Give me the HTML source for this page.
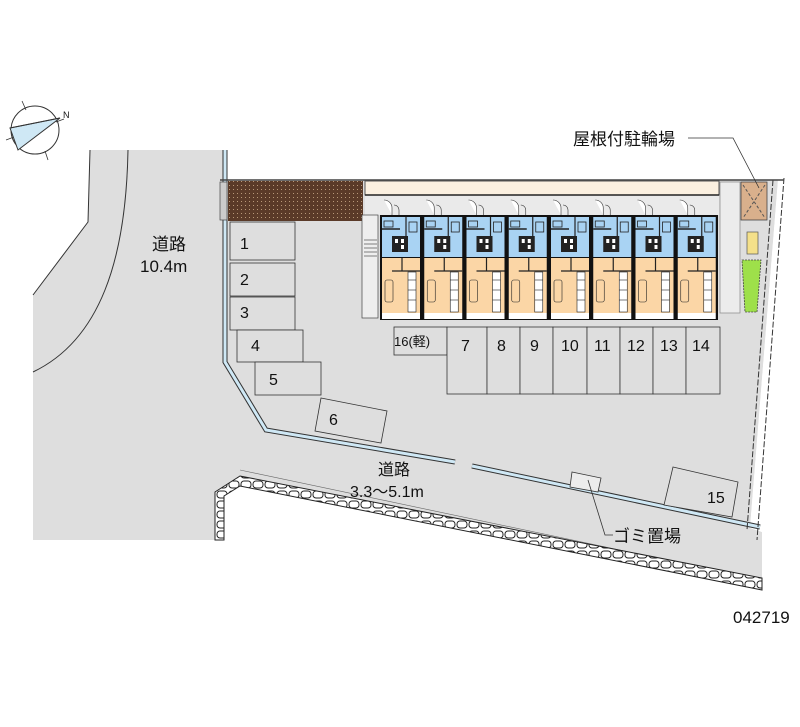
<!DOCTYPE html>
<html><head><meta charset="utf-8"><style>
html,body{margin:0;padding:0;background:#fff;}
svg{display:block;}
text{font-family:"Liberation Sans","Noto Sans CJK JP",sans-serif;fill:#111;}
</style></head><body>
<svg width="800" height="727" viewBox="0 0 800 727" xmlns="http://www.w3.org/2000/svg">
<defs>
<pattern id="hatch" width="4" height="4" patternUnits="userSpaceOnUse">
<rect width="4" height="4" fill="#5a3a28"/><rect x="1" y="1" width="1" height="1" fill="#b89878"/>
</pattern>
<pattern id="stones" width="12" height="10" patternUnits="userSpaceOnUse">
<rect width="12" height="10" fill="#fff"/><rect x="1" y="1" width="10" height="7" rx="3" fill="#fff" stroke="#222" stroke-width="1"/>
</pattern>
<g id="unit">
<rect x="2" y="217" width="38" height="40" fill="#a9d3f3"/>
<rect x="2" y="258" width="38" height="55" fill="#fbd6a6"/>
<rect x="2" y="313" width="38" height="6" fill="#fff"/>
<rect x="12" y="236" width="16" height="16" fill="#222"/>
<rect x="15" y="239" width="3" height="4" fill="#fff"/><rect x="21" y="239" width="3" height="4" fill="#fff"/>
<rect x="21" y="245" width="3" height="4" fill="#fff"/>
<line x1="2" y1="229" x2="20" y2="229" stroke="#222" stroke-width="1.5"/>
<line x1="26" y1="217" x2="26" y2="236" stroke="#222" stroke-width="1.2"/>
<rect x="29" y="222" width="8" height="10" fill="none" stroke="#222" stroke-width="0.8"/>
<rect x="4" y="221" width="9" height="6" fill="none" stroke="#222" stroke-width="0.8"/>
<line x1="22" y1="258" x2="22" y2="271" stroke="#222" stroke-width="1.2"/>
<line x1="12" y1="271" x2="40" y2="271" stroke="#222" stroke-width="1.2"/>
<rect x="28" y="272" width="8" height="40" fill="#fff" stroke="#222" stroke-width="0.6"/>
<line x1="28" y1="280" x2="36" y2="280" stroke="#222" stroke-width="0.6"/>
<line x1="28" y1="290" x2="36" y2="290" stroke="#222" stroke-width="0.6"/>
<line x1="28" y1="300" x2="36" y2="300" stroke="#222" stroke-width="0.6"/>
<rect x="5" y="280" width="8" height="22" rx="2" fill="#fbd6a6" stroke="#222" stroke-width="0.6"/>
<path d="M4,200 a8,8 0 0 1 8,8 v7" fill="#fff" stroke="#333" stroke-width="0.6"/>
<path d="M14,205 a5,5 0 0 1 5,5 v5" fill="none" stroke="#333" stroke-width="0.6"/>
</g>
</defs>
<polygon points="33,150 223,150 223,180 778,180 750,528 762,532 762,588 240,482 222,487 215,492 215,540 33,540" fill="#dedede"/>
<polygon points="33,150 90,150 88,222 33,295" fill="#fff"/>
<polygon points="778,180 800,180 800,600 762,600 762,532 750,528" fill="#fff"/>
<polyline points="90,150 88,222 33,295" fill="none" stroke="#333" stroke-width="1"/>
<path d="M128,150 C126,260 100,340 33,372" fill="none" stroke="#333" stroke-width="1"/>
<polyline points="225,150 225,362 266,430 455,462" fill="none" stroke="#333" stroke-width="5"/>
<polyline points="225,150 225,362 266,430 455,462" fill="none" stroke="#cfe8f5" stroke-width="3"/>
<polyline points="472,466 760,527" fill="none" stroke="#333" stroke-width="5"/>
<polyline points="472,466 760,527" fill="none" stroke="#cfe8f5" stroke-width="3"/>
<line x1="240" y1="470" x2="762" y2="580" stroke="#666" stroke-width="0.6"/>
<polygon points="215,540 215,492 240,476 762,578 762,590 240,486 224,496 224,540" fill="url(#stones)" stroke="#222" stroke-width="1"/>
<line x1="773" y1="180" x2="747" y2="530" stroke="#333" stroke-width="1" stroke-dasharray="6,2"/>
<line x1="784" y1="178" x2="757" y2="540" stroke="#333" stroke-width="1" stroke-dasharray="6,2"/>
<line x1="220" y1="180" x2="784" y2="180" stroke="#444" stroke-width="1.5"/>
<rect x="228" y="181" width="135" height="40" fill="url(#hatch)"/>
<rect x="220" y="182" width="7" height="38" fill="#ccc" stroke="#444" stroke-width="0.7"/>
<rect x="365" y="181" width="354" height="14" fill="#fbf0e0" stroke="#555" stroke-width="1"/>
<rect x="365" y="195" width="354" height="20" fill="#eaeaea"/>
<line x1="365" y1="195" x2="719" y2="195" stroke="#222" stroke-width="1.5"/>
<rect x="362" y="215" width="16" height="103" fill="#eee" stroke="#444" stroke-width="0.7"/>
<g stroke="#333" stroke-width="0.6">
<line x1="364" y1="240" x2="377" y2="240"/><line x1="364" y1="244" x2="377" y2="244"/><line x1="364" y1="248" x2="377" y2="248"/><line x1="364" y1="252" x2="377" y2="252"/><line x1="364" y1="256" x2="377" y2="256"/>
</g>
<rect x="720" y="182" width="20" height="131" fill="#ececec" stroke="#888" stroke-width="0.7"/>
<rect x="380" y="215" width="338" height="105" fill="#111"/>
<use href="#unit" transform="translate(380,0)"/>
<use href="#unit" transform="translate(422.25,0)"/>
<use href="#unit" transform="translate(464.5,0)"/>
<use href="#unit" transform="translate(506.75,0)"/>
<use href="#unit" transform="translate(549,0)"/>
<use href="#unit" transform="translate(591.25,0)"/>
<use href="#unit" transform="translate(633.5,0)"/>
<use href="#unit" transform="translate(675.75,0)"/>
<rect x="741" y="182" width="26" height="38" fill="#d9b08c" stroke="#444" stroke-width="0.8"/>
<line x1="743" y1="185" x2="765" y2="218" stroke="#555" stroke-dasharray="3,2"/><line x1="765" y1="185" x2="743" y2="218" stroke="#555" stroke-dasharray="3,2"/>
<rect x="747" y="232" width="11" height="22" fill="#f4e08a" stroke="#555" stroke-width="0.7"/>
<polygon points="742,260 761,260 757,312 745,312" fill="#9ee04a" stroke="#444" stroke-width="0.8" stroke-dasharray="2,1"/>
<g fill="#dedede" stroke="#333" stroke-width="0.8">
<rect x="230" y="222" width="65" height="38"/>
<rect x="230" y="263" width="65" height="33"/>
<rect x="230" y="297" width="65" height="33"/>
<rect x="237" y="330" width="66" height="32"/>
<rect x="255" y="362" width="66" height="33"/>
<polygon points="321,398 387,411 381,443 315,431"/>
<rect x="394" y="327" width="53" height="28"/>
<rect x="447" y="327" width="40" height="67"/><rect x="487" y="327" width="33" height="67"/><rect x="520" y="327" width="33" height="67"/><rect x="553" y="327" width="34" height="67"/><rect x="587" y="327" width="33" height="67"/><rect x="620" y="327" width="33" height="67"/><rect x="653" y="327" width="33" height="67"/><rect x="686" y="327" width="34" height="67"/>
<polygon points="673,467 738,482 732,517 664,505"/>
<polygon points="572,472 601,478 598,492 570,487" fill="#ececec"/>
</g>
<g font-size="16">
<text x="240" y="249">1</text><text x="240" y="285">2</text><text x="240" y="318">3</text><text x="251" y="351">4</text><text x="269" y="385">5</text><text x="329" y="425">6</text>
<text x="394" y="346" font-size="13">16(軽)</text>
<text x="461" y="351">7</text><text x="497" y="351">8</text><text x="530" y="351">9</text><text x="561" y="351">10</text><text x="594" y="351">11</text><text x="627" y="351">12</text><text x="660" y="351">13</text><text x="692" y="351">14</text>
<text x="707" y="503">15</text>
<text x="152" y="250" font-size="17">道路</text><text x="140" y="272" font-size="17">10.4m</text>
<text x="378" y="475" font-size="16">道路</text><text x="350" y="497" font-size="16">3.3〜5.1m</text>
<text x="573" y="145" font-size="17">屋根付駐輪場</text>
<text x="613" y="542" font-size="17">ゴミ置場</text>
<text x="733" y="623" font-size="17">042719</text>
</g>
<polyline points="688,138 733,138 759,188" fill="none" stroke="#333" stroke-width="0.8"/>
<polyline points="588,480 605,535 613,535" fill="none" stroke="#333" stroke-width="0.8"/>
<circle cx="35" cy="130" r="24" fill="#fff" stroke="#333" stroke-width="1"/>
<g stroke="#333" stroke-width="0.8"><line x1="22" y1="101" x2="26" y2="110"/><line x1="45" y1="151" x2="48" y2="160"/><line x1="6" y1="140" x2="14" y2="137"/><line x1="56" y1="122" x2="64" y2="119"/></g>
<polygon points="10,128 60,118 18,150" fill="#cfe8f5" stroke="#333" stroke-width="1"/>
<line x1="10" y1="128" x2="60" y2="118" stroke="#333"/>
<text x="63" y="118" font-size="9">N</text>
</svg>
</body></html>
